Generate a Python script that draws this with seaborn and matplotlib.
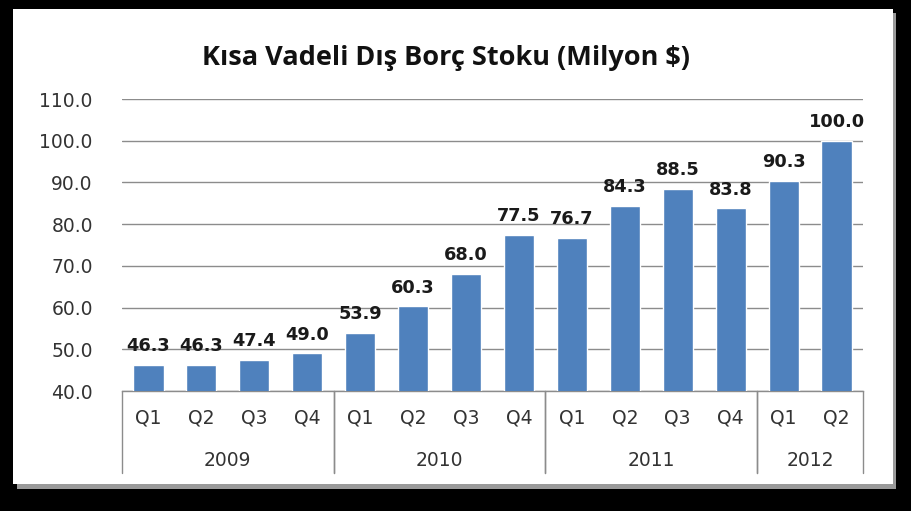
import matplotlib
matplotlib.use("Agg")
import matplotlib.pyplot as plt
from matplotlib.patches import Rectangle
import matplotlib.transforms as mtransforms
import seaborn as sns
import pandas as pd

# ---- data ----
quarters = ["Q1", "Q2", "Q3", "Q4", "Q1", "Q2", "Q3", "Q4", "Q1", "Q2", "Q3", "Q4", "Q1", "Q2"]
years = ["2009", "2009", "2009", "2009", "2010", "2010", "2010", "2010",
         "2011", "2011", "2011", "2011", "2012", "2012"]
values = [46.3, 46.3, 47.4, 49.0, 53.9, 60.3, 68.0, 77.5, 76.7, 84.3, 88.5, 83.8, 90.3, 100.0]
year_groups = ["2009", "2010", "2011", "2012"]
title = "Kısa Vadeli Dış Borç Stoku (Milyon $)"
y_ticks = [40, 50, 60, 70, 80, 90, 100, 110]

df = pd.DataFrame({"key": [f"{y}-{q}" for y, q in zip(years, quarters)],
                   "value": values})

sns.set_theme(style="white")
plt.rcParams["font.family"] = ["DejaVu Sans"]

W, H = 912, 511
fig = plt.figure(figsize=(W / 100, H / 100), dpi=100)
fig.patch.set_facecolor("black")

# shadow + white panel
fig.patches.append(Rectangle((17 / W, 1 - 489 / H), 879 / W, 476 / H,
                             transform=fig.transFigure, facecolor="#9a9a9a",
                             edgecolor="none", zorder=-10))
fig.patches.append(Rectangle((13 / W, 1 - 484 / H), 880 / W, 475 / H,
                             transform=fig.transFigure, facecolor="white",
                             edgecolor="none", zorder=-9))

ax_left, ax_right, ax_top, ax_bot = 122, 863, 99, 391
ax = fig.add_axes([ax_left / W, 1 - ax_bot / H, (ax_right - ax_left) / W,
                   (ax_bot - ax_top) / H])
ax.set_facecolor("none")
ax.set_zorder(5)

sns.barplot(data=df, x="key", y="value", color="#4F81BD", saturation=1,
            width=0.57, ax=ax, zorder=3)

ax.set_ylim(40, 110)
ax.set_xlim(-0.5, len(values) - 0.5)
ax.set_yticks(y_ticks)
ax.set_yticklabels([f"{v:.1f}" for v in y_ticks], fontsize=13.5, color="#333333")
ax.tick_params(axis="y", length=0, pad=21)
ax.yaxis.grid(True, color="#8c8c8c", linewidth=1.0, zorder=0)
ax.set_axisbelow(True)
ax.set_xlabel("")
ax.set_ylabel("")
ax.set_xticks(range(len(values)))
ax.set_xticklabels([])
ax.tick_params(axis="x", length=0)
for s in ["left", "right", "top"]:
    ax.spines[s].set_visible(False)
ax.spines["bottom"].set_color("#8c8c8c")
ax.spines["bottom"].set_linewidth(1.0)

for c in ax.containers:
    ax.bar_label(c, labels=[f"{v:.1f}" for v in values], padding=7,
                 fontsize=12.8, fontweight="bold", color="#1a1a1a")

trans = mtransforms.blended_transform_factory(ax.transData, ax.transAxes)
axh = ax_bot - ax_top
q_y = -(418 - ax_bot) / axh
y_y = -(460 - ax_bot) / axh
sep_bottom = -(473 - ax_bot) / axh

for i, q in enumerate(quarters):
    ax.text(i, q_y, q, transform=trans, ha="center", va="center",
            fontsize=13.5, color="#333333")

bounds = []
start = 0
for g in year_groups:
    n = years.count(g)
    bounds.append((start, start + n))
    start += n

for g, (a, b) in zip(year_groups, bounds):
    ax.text((a + b - 1) / 2, y_y, g, transform=trans, ha="center", va="center",
            fontsize=13.5, color="#333333")
    for xb in (a - 0.5, b - 0.5):
        ax.plot([xb, xb], [0, sep_bottom], transform=trans, color="#8c8c8c",
                linewidth=1.0, clip_on=False)

fig.text(446 / W, 1 - 58 / H, title, ha="center", va="center",
         fontsize=19.5, fontweight="bold", family=["Open Sans", "DejaVu Sans"],
         color="#111111")

fig.savefig("out.png", dpi=100, facecolor=fig.get_facecolor())
